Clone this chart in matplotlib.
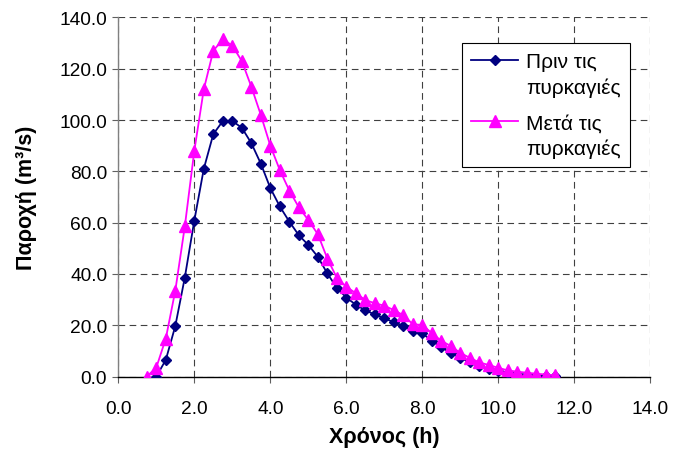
import matplotlib
matplotlib.use("Agg")
import matplotlib.pyplot as plt
from matplotlib.ticker import MultipleLocator, FormatStrFormatter
from matplotlib.legend_handler import HandlerLine2D

plt.rcParams['font.family'] = ['Liberation Sans', 'DejaVu Sans']

# Hydrograph before the fires (h, m3/s)
time_before = [1.0, 1.25, 1.5, 1.75, 2.0, 2.25, 2.5, 2.75, 3.0, 3.25, 3.5, 3.75,
               4.0, 4.25, 4.5, 4.75, 5.0, 5.25, 5.5, 5.75, 6.0, 6.25, 6.5, 6.75,
               7.0, 7.25, 7.5, 7.75, 8.0, 8.25, 8.5, 8.75, 9.0, 9.25, 9.5, 9.75,
               10.0, 10.25, 10.5, 10.75, 11.0, 11.25, 11.5]
flow_before = [0.0, 6.5, 19.7, 38.6, 60.8, 81.0, 94.5, 99.6, 99.6, 97.0, 91.0, 83.0,
               73.5, 66.3, 60.4, 55.1, 51.3, 46.7, 40.2, 34.6, 30.8, 28.0, 25.8, 24.2,
               22.7, 21.2, 19.8, 17.8, 16.8, 14.0, 11.4, 9.2, 7.3, 5.6, 4.2, 3.0,
               2.1, 1.5, 1.0, 0.6, 0.4, 0.2, 0.1]

# Hydrograph after the fires (h, m3/s)
time_after = [0.75, 1.0, 1.25, 1.5, 1.75, 2.0, 2.25, 2.5, 2.75, 3.0, 3.25, 3.5, 3.75,
              4.0, 4.25, 4.5, 4.75, 5.0, 5.25, 5.5, 5.75, 6.0, 6.25, 6.5, 6.75,
              7.0, 7.25, 7.5, 7.75, 8.0, 8.25, 8.5, 8.75, 9.0, 9.25, 9.5, 9.75,
              10.0, 10.25, 10.5, 10.75, 11.0, 11.25, 11.5]
flow_after = [0.0, 3.5, 14.8, 33.5, 58.5, 88.0, 112.0, 127.0, 131.5, 129.0, 123.0, 113.0, 102.0,
              90.0, 80.5, 72.5, 66.0, 61.0, 55.5, 46.0, 38.5, 35.0, 32.5, 29.8, 28.6,
              27.6, 25.9, 23.9, 20.4, 20.1, 16.9, 13.9, 11.9, 9.2, 7.3, 5.5, 4.5,
              3.4, 2.4, 1.9, 1.5, 1.1, 0.8, 0.5]

label_before = "Πριν τις\nπυρκαγιές"
label_after = "Μετά τις\nπυρκαγιές"


class FirstLineHandler(HandlerLine2D):
    """Places the legend sample level with the first line of a two-line label."""

    def __init__(self, raise_pts, **kw):
        super().__init__(**kw)
        self.raise_pts = raise_pts

    def create_artists(self, legend, orig_handle, xdescent, ydescent,
                       width, height, fontsize, trans):
        return super().create_artists(legend, orig_handle, xdescent,
                                      ydescent - 2 * self.raise_pts,
                                      width, height, fontsize, trans)


fig = plt.figure(figsize=(6.74, 4.56), dpi=100)
ax = fig.add_axes([0.1755, 0.172, 0.7895, 0.7876])

line_b, = ax.plot(time_before, flow_before, color='#000080', lw=1.3, marker='D',
                  markersize=5.2, label=label_before, zorder=3)
line_a, = ax.plot(time_after, flow_after, color='#FF00FF', lw=1.3, marker='^',
                  markersize=8, label=label_after, zorder=4)

ax.set_xlim(0, 14)
ax.set_ylim(0, 140)
ax.xaxis.set_major_locator(MultipleLocator(2))
ax.yaxis.set_major_locator(MultipleLocator(20))
ax.xaxis.set_major_formatter(FormatStrFormatter('%.1f'))
ax.yaxis.set_major_formatter(FormatStrFormatter('%.1f'))

ax.grid(True, color='#404040', linestyle=(0, (6, 4)), linewidth=0.8)
ax.set_axisbelow(True)
for s in ('top', 'right'):
    ax.spines[s].set_visible(False)
ax.spines['left'].set_color('#808080')
ax.spines['left'].set_linewidth(1.0)
ax.spines['bottom'].set_color('black')
ax.spines['bottom'].set_linewidth(1.0)

ax.tick_params(axis='both', direction='out', length=4, width=0.8,
               color='#606060', labelsize=13.8)
ax.tick_params(axis='x', pad=13)
ax.tick_params(axis='y', pad=4)

ax.set_xlabel('Χρόνος (h)', fontsize=15.5, fontweight='bold', labelpad=6)
ax.set_ylabel('Παροχή (m³/s)', fontsize=15.5, fontweight='bold', labelpad=16)

handler = FirstLineHandler(raise_pts=10.3)
leg = ax.legend(handles=[line_b, line_a], loc='upper right',
                bbox_to_anchor=(0.962, 0.929), fontsize=15,
                frameon=True, fancybox=False, edgecolor='black', framealpha=1,
                borderpad=0.45, labelspacing=0.8, handlelength=2.27,
                handletextpad=0.38, borderaxespad=0,
                handler_map={line_b: handler, line_a: handler})
leg.get_frame().set_linewidth(0.8)
for t in leg.get_texts():
    t.set_linespacing(1.38)

fig.savefig('out.png', dpi=100)
